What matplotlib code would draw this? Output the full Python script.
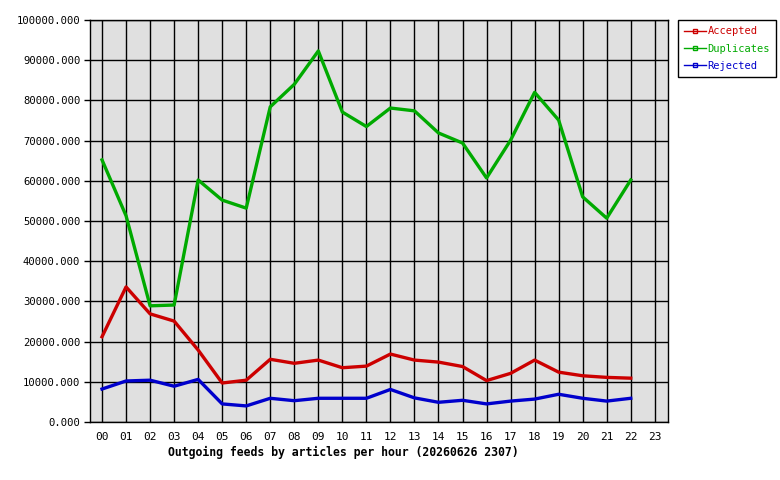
import matplotlib
matplotlib.use("Agg")
import matplotlib.pyplot as plt
from matplotlib.lines import Line2D

hours = ["00","01","02","03","04","05","06","07","08","09","10","11",
         "12","13","14","15","16","17","18","19","20","21","22","23"]
accepted = [21200, 33600, 26900, 25100, 17900, 9700, 10400, 15600, 14600, 15400,
            13500, 13900, 16900, 15400, 14900, 13800, 10300, 12100, 15400, 12400,
            11500, 11100, 10900]
duplicates = [65200, 51300, 28900, 29100, 60200, 55200, 53200, 78400, 84000, 92300,
              77100, 73500, 78100, 77400, 71900, 69400, 60700, 70100, 82000, 75100,
              56000, 50700, 60200]
rejected = [8200, 10200, 10400, 8900, 10600, 4500, 4000, 5900, 5300, 5900,
            5900, 5900, 8100, 6000, 4900, 5400, 4500, 5200, 5700, 6900,
            5900, 5200, 5900]
yticks = [0, 10000, 20000, 30000, 40000, 50000, 60000, 70000, 80000, 90000, 100000]

mono = "DejaVu Sans Mono"
fig = plt.figure(figsize=(7.8, 4.8), dpi=100)
ax = fig.add_axes([90/780, 58/480, 578/780, 402/480])
ax.set_facecolor("#e0e0e0")

x = list(range(len(accepted)))
colors = {"Accepted": "#cc0000", "Duplicates": "#00aa00", "Rejected": "#0000cc"}
ax.plot(x, accepted, color=colors["Accepted"], lw=2.4, zorder=3)
ax.plot(x, duplicates, color=colors["Duplicates"], lw=2.4, zorder=3)
ax.plot(x, rejected, color=colors["Rejected"], lw=2.4, zorder=3)

ax.set_xlim(-0.5, 23.55)
ax.set_ylim(0, 100000)
ax.set_xticks(range(len(hours)))
ax.set_xticklabels(hours, fontfamily=mono, fontsize=8)
ax.set_yticks(yticks)
ax.set_yticklabels([f"{v:.3f}" for v in yticks], fontfamily=mono, fontsize=7.6)
ax.grid(True, color="black", lw=1, zorder=1)
ax.set_axisbelow(True)
ax.tick_params(axis="y", length=4, width=1, pad=3)
ax.tick_params(axis="x", length=0, pad=7)
for s in ax.spines.values():
    s.set_linewidth(1)
fig.text(343/780, 1 - 452/480, "Outgoing feeds by articles per hour (20260626 2307)",
         fontfamily=mono, fontsize=8.3, fontweight="bold", ha="center", va="center")

handles = [Line2D([0], [0], color=c, lw=1, marker="s", markersize=3,
                  markerfacecolor="none", markeredgecolor=c) for c in colors.values()]
leg = fig.legend(handles, list(colors.keys()), loc="upper left",
                 bbox_to_anchor=(678/780, 1 - 20/480), frameon=True, fancybox=False,
                 edgecolor="black", framealpha=1, handlelength=2.1, handletextpad=0.15,
                 borderpad=0.6, labelspacing=0.7, borderaxespad=0,
                 prop={"family": mono, "size": 7.5})
leg.get_frame().set_linewidth(1)
for t, c in zip(leg.get_texts(), colors.values()):
    t.set_color(c)

fig.savefig("out.png", dpi=100)
